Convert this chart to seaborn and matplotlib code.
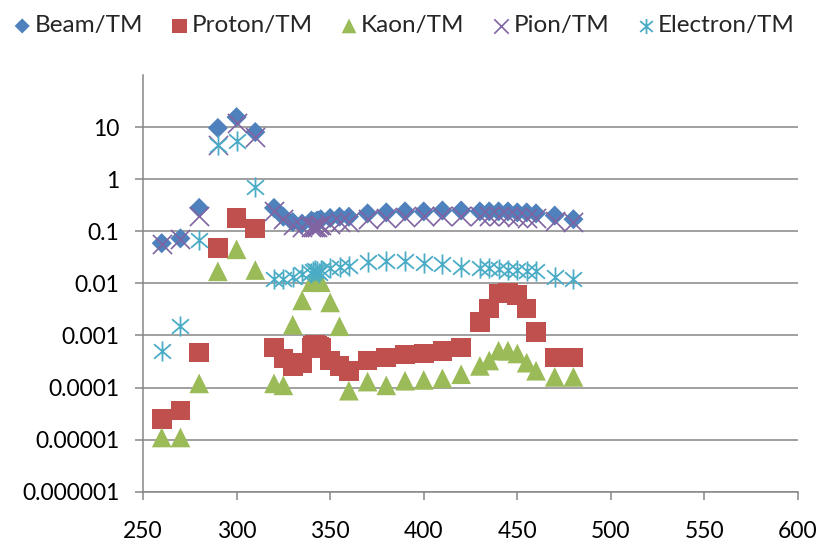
import matplotlib
matplotlib.use("Agg")
import matplotlib.pyplot as plt
from matplotlib.path import Path
from matplotlib.ticker import FixedLocator, FixedFormatter, NullLocator
import seaborn as sns

# Beam energy scan (x) and ratios to TM for each particle species
energy = [260, 270, 280, 290, 300, 310, 320, 325, 330, 335, 340, 341, 342, 343,
          344, 345, 350, 355, 360, 370, 380, 390, 400, 410, 420, 430, 435, 440,
          445, 450, 455, 460, 470, 480]

beam = [0.059, 0.073, 0.28, 9.6, 15.5, 8.0, 0.28, 0.19, 0.15, 0.14, 0.16, 0.15,
        0.15, 0.16, 0.16, 0.17, 0.18, 0.19, 0.19, 0.22, 0.23, 0.24, 0.24, 0.25,
        0.25, 0.24, 0.24, 0.24, 0.24, 0.23, 0.23, 0.22, 0.20, 0.17]

proton = [2.5e-5, 3.6e-5, 4.7e-4, 0.048, 0.18, 0.113, 5.9e-4, 3.6e-4, 2.6e-4,
          3.0e-4, 5.9e-4, 6.2e-4, 6.5e-4, 6.3e-4, 6.0e-4, 5.7e-4, 3.3e-4, 2.6e-4,
          2.1e-4, 3.3e-4, 3.8e-4, 4.3e-4, 4.5e-4, 5.1e-4, 5.9e-4, 1.8e-3, 3.3e-3,
          6.4e-3, 6.6e-3, 5.9e-3, 3.3e-3, 1.15e-3, 3.8e-4, 3.8e-4]

kaon = [1.1e-5, 1.1e-5, 1.2e-4, 0.017, 0.045, 0.018, 1.2e-4, 1.1e-4, 1.6e-3,
        4.7e-3, 1.05e-2, 1.1e-2, 1.15e-2, 1.15e-2, 1.1e-2, 1.05e-2, 4.3e-3,
        1.5e-3, 8.7e-5, 1.3e-4, 1.1e-4, 1.35e-4, 1.4e-4, 1.5e-4, 1.8e-4, 2.6e-4,
        3.3e-4, 5.1e-4, 5.1e-4, 4.5e-4, 3.0e-4, 2.1e-4, 1.6e-4, 1.6e-4]

pion = [0.057, 0.071, 0.20, 4.6, 12.0, 6.4, 0.25, 0.17, 0.13, 0.12, 0.12, 0.12,
        0.12, 0.12, 0.13, 0.13, 0.14, 0.15, 0.15, 0.17, 0.18, 0.19, 0.20, 0.20,
        0.20, 0.20, 0.20, 0.20, 0.20, 0.19, 0.18, 0.18, 0.16, 0.15]

electron = [5.0e-4, 1.5e-3, 0.067, 4.6, 5.3, 0.72, 0.012, 0.012, 0.013, 0.015,
            0.016, 0.017, 0.018, 0.017, 0.016, 0.018, 0.020, 0.021, 0.022, 0.026,
            0.027, 0.027, 0.025, 0.024, 0.021, 0.020, 0.020, 0.019, 0.018, 0.018,
            0.017, 0.017, 0.013, 0.012]

series_names = ["Beam/TM", "Proton/TM", "Kaon/TM", "Pion/TM", "Electron/TM"]

y_tick_values = [1e-6, 1e-5, 1e-4, 1e-3, 1e-2, 1e-1, 1, 10]
y_tick_labels = ["0.000001", "0.00001", "0.0001", "0.001", "0.01", "0.1", "1", "10"]
x_tick_values = [250, 300, 350, 400, 450, 500, 550, 600]

sns.set_theme(style="white")
plt.rcParams["font.family"] = ["Lato", "DejaVu Sans"]

# six-armed star: vertical stroke plus a diagonal cross
star = Path(
    [(0, -0.5), (0, 0.5), (-0.42, -0.36), (0.42, 0.36), (-0.42, 0.36), (0.42, -0.36)],
    [Path.MOVETO, Path.LINETO, Path.MOVETO, Path.LINETO, Path.MOVETO, Path.LINETO],
)

fig = plt.figure(figsize=(8.21, 5.47), dpi=100)
ax = fig.add_axes([0.1742, 0.101, 0.972 - 0.1742, 0.863 - 0.101])

grey = "#868686"
styles = [
    (beam, "D", "#4F81BD", 105, dict(edgecolor="none", linewidth=0)),
    (proton, "s", "#C0504D", 200, dict(edgecolor="none", linewidth=0)),
    (kaon, "^", "#9BBB59", 200, dict(edgecolor="none", linewidth=0)),
    (pion, "x", "#8064A2", 190, dict(linewidth=1.2)),
    (electron, star, "#4BACC6", 210, dict(edgecolor="#4BACC6", linewidth=1.3)),
]

for (vals, mk, col, size, extra), name in zip(styles, series_names):
    sns.scatterplot(x=energy, y=vals, marker=mk, color=col, s=size,
                    label=name, ax=ax, legend=False, zorder=3, **extra)

ax.set_yscale("log")
ax.set_ylim(1e-6, 100)
ax.set_xlim(250, 600)
ax.yaxis.set_major_locator(FixedLocator(y_tick_values))
ax.yaxis.set_major_formatter(FixedFormatter(y_tick_labels))
ax.yaxis.set_minor_locator(NullLocator())
ax.xaxis.set_major_locator(FixedLocator(x_tick_values))
ax.set_xlabel("")
ax.set_ylabel("")

ax.grid(axis="y", color=grey, linewidth=1.1)
ax.grid(axis="x", visible=False)
for side in ["top", "right"]:
    ax.spines[side].set_visible(False)
for side in ["left", "bottom"]:
    ax.spines[side].set_color(grey)
    ax.spines[side].set_linewidth(1.1)

ax.tick_params(axis="both", which="major", direction="out", length=6,
               width=1.1, color=grey, labelsize=16.5, labelcolor="black")
ax.tick_params(axis="y", pad=11)
ax.tick_params(axis="x", pad=15, bottom=True)
ax.tick_params(axis="y", left=True)

handles, labels = ax.get_legend_handles_labels()
fig.legend(handles, labels, loc="upper center", bbox_to_anchor=(0.49, 1.012),
           ncol=5, frameon=False, fontsize=17.5, handletextpad=0.0,
           columnspacing=1.0, markerscale=0.75, handlelength=1.0)

fig.savefig("out.png", dpi=100)
